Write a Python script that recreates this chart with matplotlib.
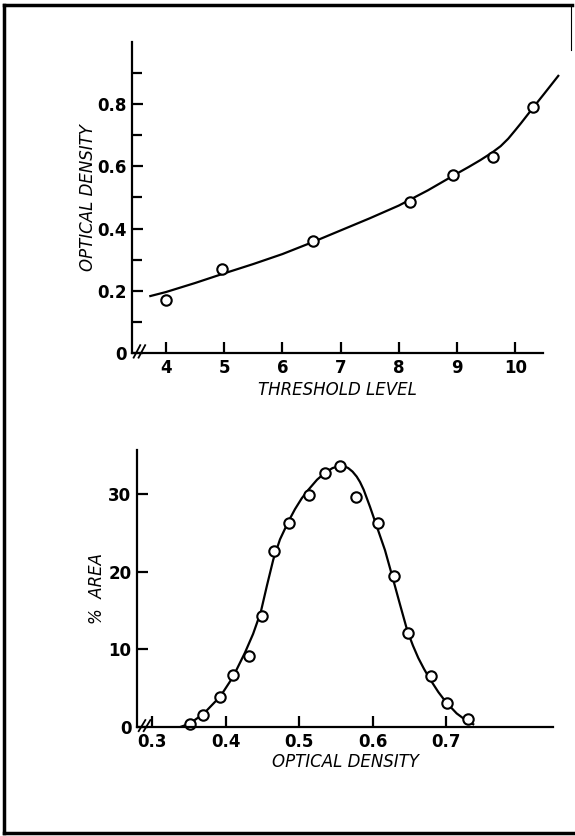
import matplotlib.pyplot as plt
from matplotlib.lines import Line2D

# top panel: optical density vs threshold level
thr_pts = [4.0, 4.96, 6.52, 8.2, 8.93, 9.61, 10.3]
od_pts = [0.170, 0.270, 0.361, 0.485, 0.571, 0.629, 0.790]
thr_curve = [3.73, 4.0, 4.5, 5.0, 5.5, 6.0, 6.5, 7.0, 7.5, 8.0, 8.5, 9.0, 9.2, 9.4,
             9.6, 9.75, 9.88, 10.0, 10.1, 10.2, 10.3, 10.5, 10.74]
od_curve = [0.183, 0.196, 0.225, 0.256, 0.286, 0.318, 0.355, 0.394, 0.433, 0.474,
            0.523, 0.577, 0.598, 0.620, 0.644, 0.665, 0.689, 0.716, 0.739, 0.763,
            0.787, 0.834, 0.891]

# bottom panel: % area vs optical density
od2_pts = [0.351, 0.370, 0.393, 0.410, 0.4315, 0.449, 0.4655, 0.486, 0.513, 0.536,
           0.556, 0.577, 0.608, 0.629, 0.648, 0.679, 0.701, 0.730]
area_pts = [0.43, 1.6, 3.83, 6.76, 9.13, 14.38, 22.69, 26.35, 29.92, 32.72,
            33.66, 29.7, 26.35, 19.46, 12.14, 6.63, 3.1, 1.03]
od2_curve = [0.3385, 0.3512, 0.3703, 0.393, 0.4102, 0.4265, 0.4375, 0.4479, 0.4565,
             0.465, 0.4741, 0.4855, 0.4945, 0.5037, 0.5127, 0.5245, 0.5354, 0.5455,
             0.5558, 0.5615, 0.567, 0.5728, 0.5785, 0.583, 0.588, 0.5966, 0.6057,
             0.617, 0.627, 0.6374, 0.6474, 0.655, 0.6623, 0.670, 0.6773, 0.6896,
             0.700, 0.7145, 0.728, 0.737]
area_curve = [0.0, 0.43, 1.72, 3.96, 6.46, 9.6, 12.0, 14.8, 18.3, 21.6, 24.2, 26.5,
              28.1, 29.5, 30.6, 31.9, 32.8, 33.4, 33.7, 33.65, 33.4, 32.95, 32.3,
              31.6, 30.6, 28.4, 25.9, 22.8, 19.4, 15.8, 12.4, 10.5, 8.9, 7.5, 6.3,
              4.5, 3.2, 1.75, 0.8, 0.35]

lw = 1.6
tickfont = {'size': 12, 'weight': 'bold'}
labelfont = {'size': 12, 'style': 'italic'}

fig = plt.figure(figsize=(5.75, 8.36), dpi=100)

# scanned page frame
fig.add_artist(Line2D([0.007, 0.007], [0.004, 0.994], transform=fig.transFigure, color='k', lw=2.5))
fig.add_artist(Line2D([0.007, 0.995], [0.994, 0.994], transform=fig.transFigure, color='k', lw=2.5))
fig.add_artist(Line2D([0.007, 0.997], [0.004, 0.004], transform=fig.transFigure, color='k', lw=2.5))
fig.add_artist(Line2D([0.993, 0.993], [0.94, 0.994], transform=fig.transFigure, color='k', lw=0.8))


def style_axes(ax):
    for s in ['top', 'right']:
        ax.spines[s].set_visible(False)
    for s in ['left', 'bottom']:
        ax.spines[s].set_linewidth(lw)
    ax.tick_params(which='both', direction='in', width=lw, pad=4)
    ax.tick_params(which='major', length=8)
    ax.tick_params(which='minor', length=7)
    # axis break mark near the origin
    for dx in (0.012, 0.024):
        ax.add_line(Line2D([dx - 0.008, dx + 0.008], [-0.015, 0.025],
                           transform=ax.transAxes, color='k', lw=1.3, clip_on=False))


# top plot
ax1 = fig.add_axes([0.2296, 0.5778, 0.715, 0.372])
ax1.plot(thr_curve, od_curve, color='k', lw=lw, clip_on=False)
ax1.plot(thr_pts, od_pts, 'o', mfc='white', mec='k', ms=7.5, mew=1.5, clip_on=False)
ax1.set_xlim(3.415, 10.48)
ax1.set_ylim(0, 1.0)
ax1.set_xticks([4, 5, 6, 7, 8, 9, 10])
ax1.set_xticklabels(['4', '5', '6', '7', '8', '9', '10'], fontdict=tickfont)
ax1.set_yticks([0, 0.2, 0.4, 0.6, 0.8])
ax1.set_yticklabels(['0', '0.2', '0.4', '0.6', '0.8'], fontdict=tickfont)
ax1.set_yticks([0.1, 0.3, 0.5, 0.7, 0.9], minor=True)
style_axes(ax1)
ax1.set_xlabel('THRESHOLD LEVEL', fontdict=labelfont, labelpad=3)
ax1.set_ylabel('OPTICAL DENSITY', fontdict=labelfont, labelpad=0)

# bottom plot
ax2 = fig.add_axes([0.2383, 0.1304, 0.7235, 0.331])
ax2.plot(od2_curve, area_curve, color='k', lw=lw)
ax2.plot(od2_pts, area_pts, 'o', mfc='white', mec='k', ms=7.5, mew=1.5, clip_on=False)
ax2.set_xlim(0.2796, 0.8456)
ax2.set_ylim(0, 35.7)
ax2.set_xticks([0.3, 0.4, 0.5, 0.6, 0.7])
ax2.set_xticklabels(['0.3', '0.4', '0.5', '0.6', '0.7'], fontdict=tickfont)
ax2.set_yticks([0, 10, 20, 30])
ax2.set_yticklabels(['0', '10', '20', '30'], fontdict=tickfont)
style_axes(ax2)
ax2.set_xlabel('OPTICAL DENSITY', fontdict=labelfont, labelpad=2)
ax2.set_ylabel('%  AREA', fontdict=labelfont, labelpad=2)

fig.savefig('out.png', dpi=100)
